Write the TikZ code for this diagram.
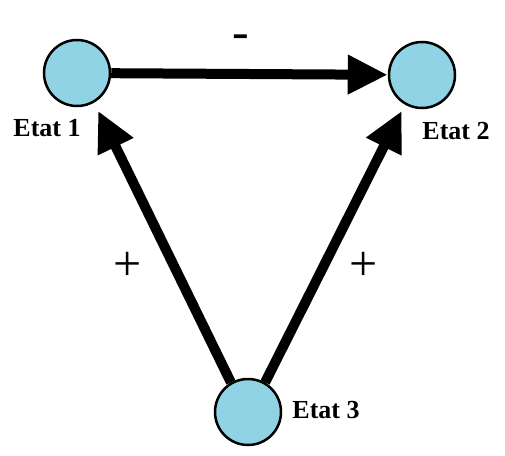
\documentclass[tikz,border=0pt]{standalone}
\usepackage{fontspec}
\setmainfont{Liberation Serif}
\usetikzlibrary{arrows.meta}
\begin{document}
\begin{tikzpicture}[x=1pt, y=-1pt]
    \definecolor{etatfill}{RGB}{143,211,229}
    \tikzset{
        etat/.style={circle, draw=black, line width=2.5pt, fill=etatfill,
                     minimum size=66pt, inner sep=0pt},
        etatlabel/.style={font=\fontsize{26}{28}\selectfont\bfseries},
        signe/.style={font=\fontsize{50}{52}\selectfont},
        fleche/.style={line width=10pt, -{Triangle[length=40pt, width=37pt]}}
    }
    \useasboundingbox (0,0) rectangle (505,455);

    % states
    \node[etat] (e1) at (77, 73) {};
    \node[etat] (e2) at (422, 75) {};
    \node[etat] (e3) at (248, 412) {};

    % state names
    \node[etatlabel] (l1) at (47, 128) {Etat 1};
    \node[etatlabel] (l2) at (456, 131) {Etat 2};
    \node[etatlabel] (l3) at (326, 410) {Etat 3};

    % transitions
    \draw[fleche] (e1) -- (e2);
    \draw[fleche, shorten >=9pt] (e3.120) -- (e1.-60);
    \draw[fleche, shorten >=7pt] (e3.60) -- (e2.-120);

    % signs
    \node[signe] (s12) at (241, 42) {-};
    \node[signe] (s31) at (128, 266) {+};
    \node[signe] (s32) at (364, 266) {+};
\end{tikzpicture}
\end{document}
